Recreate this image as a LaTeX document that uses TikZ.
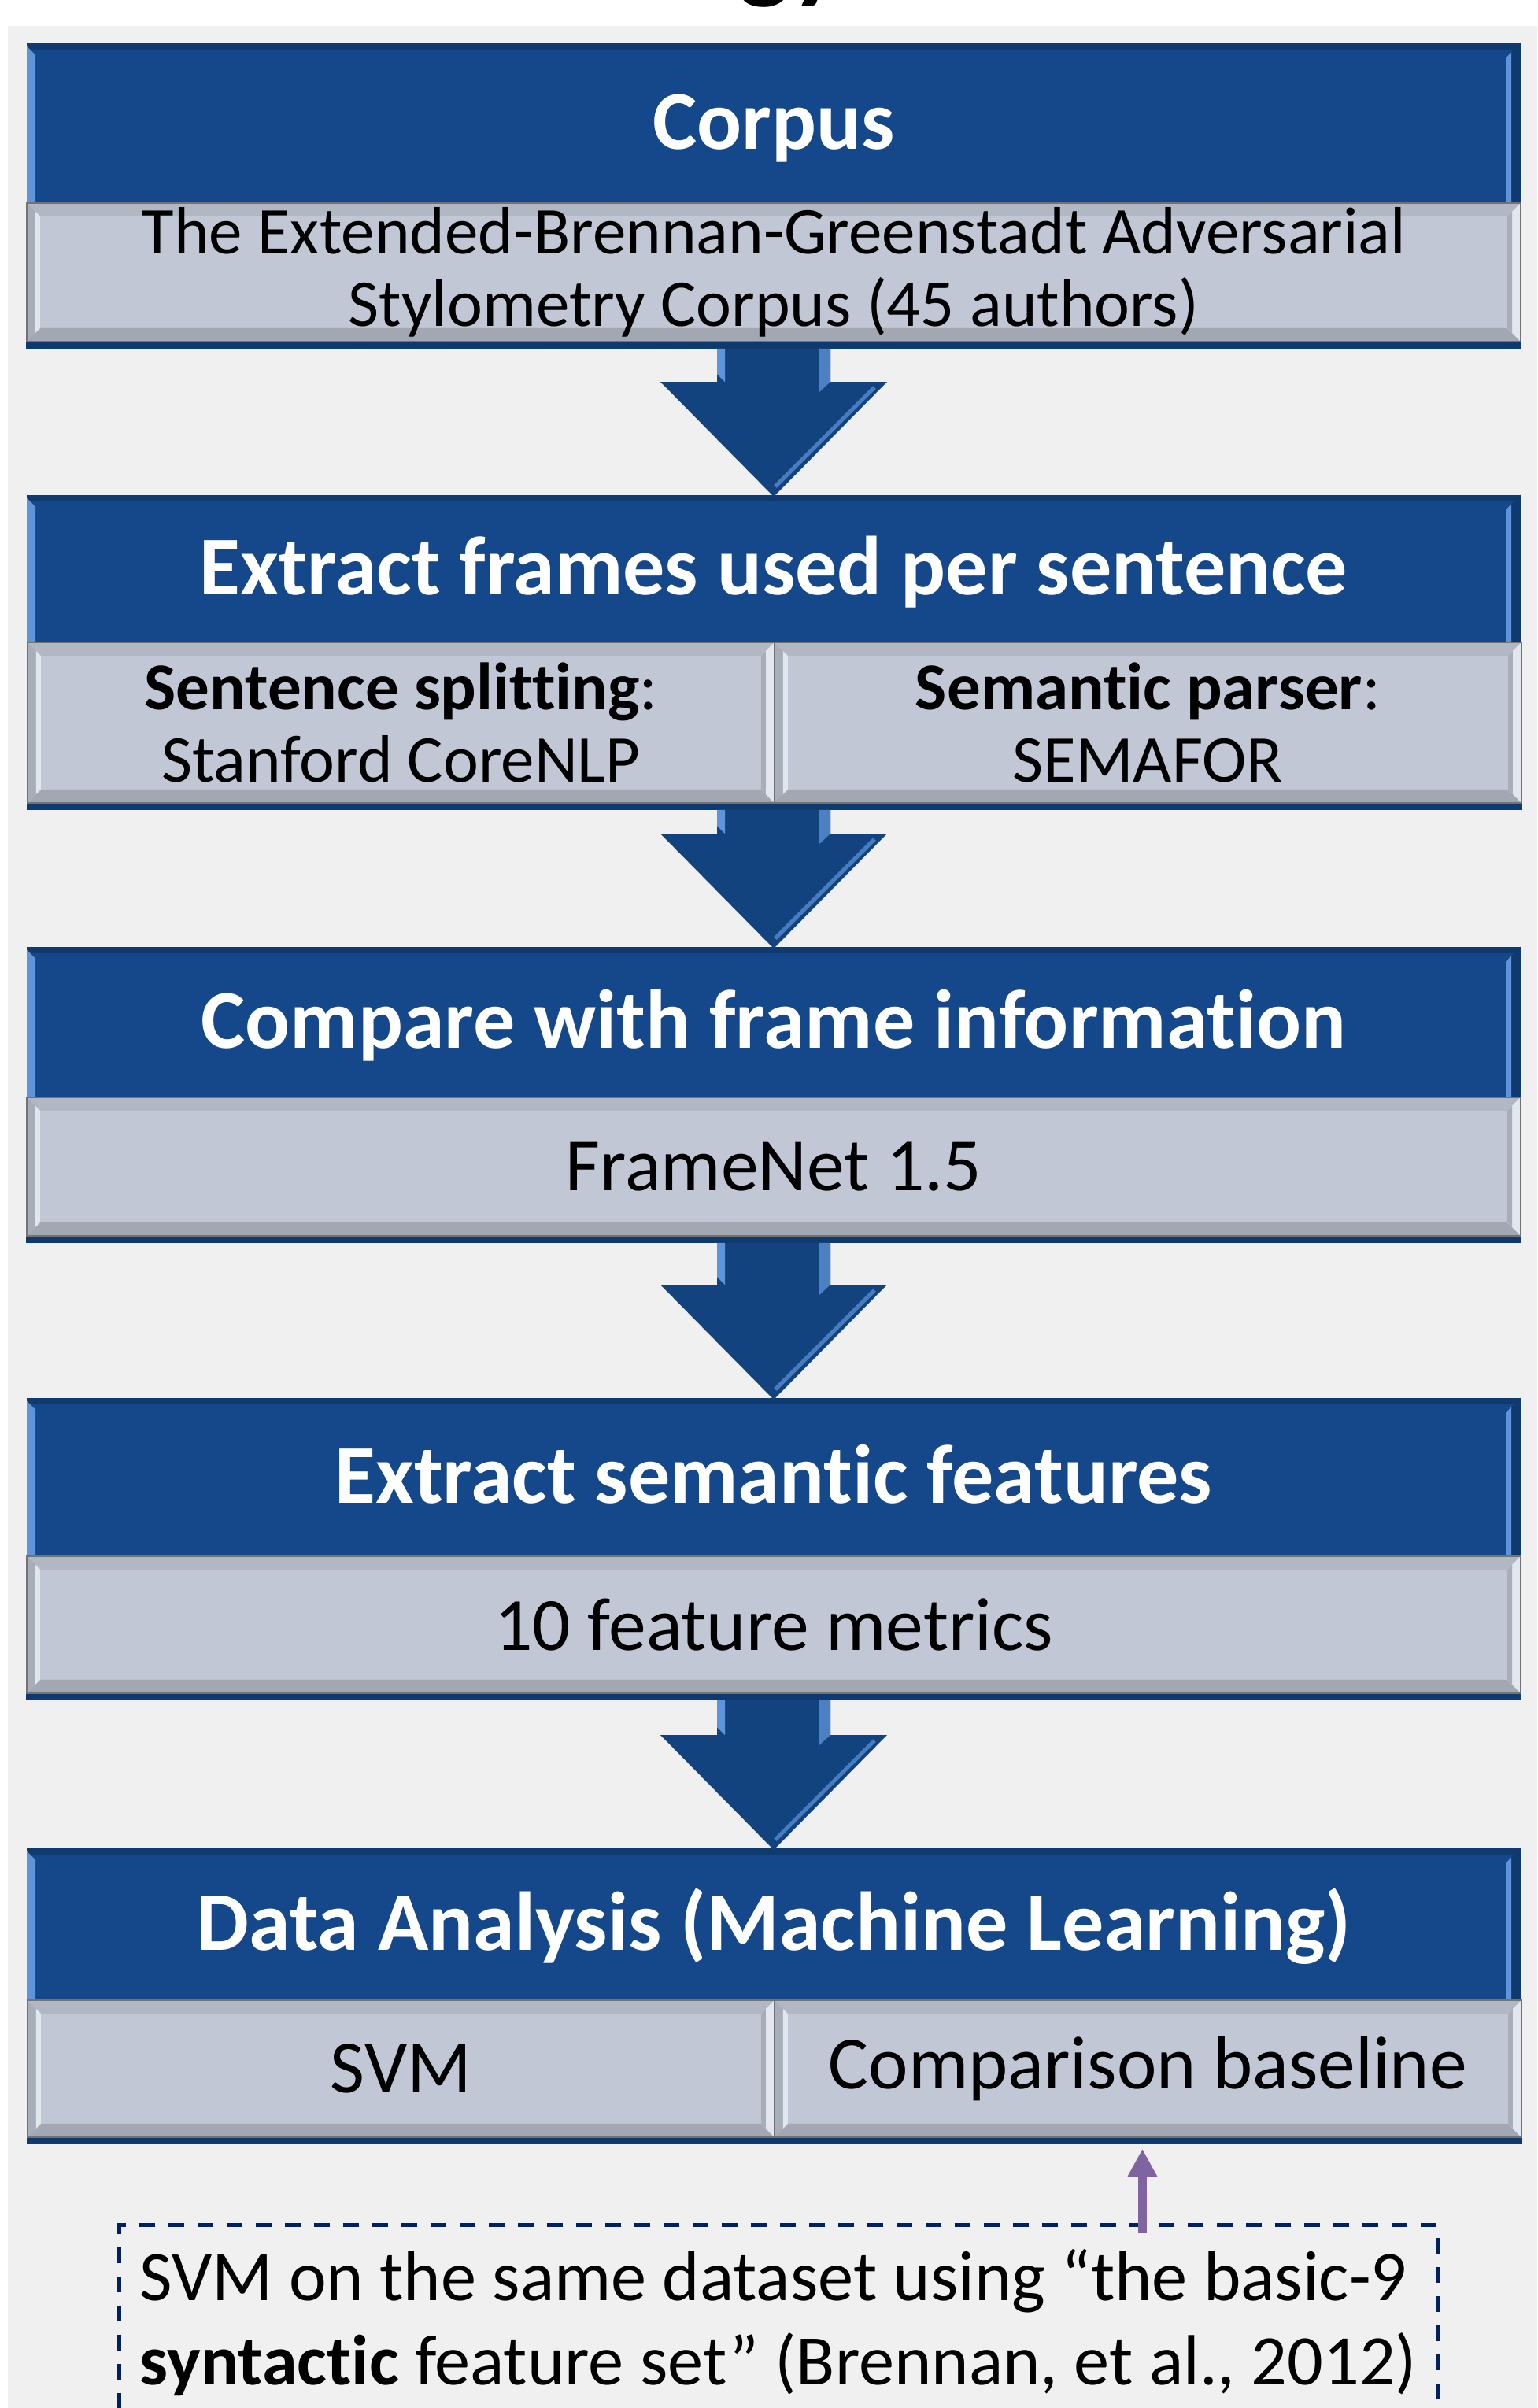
\documentclass[tikz,border=0pt]{standalone}
\usepackage{fontspec}
\setmainfont{Carlito}[Ligatures={NoCommon}]
\usetikzlibrary{calc,arrows.meta}

\definecolor{hblue}{HTML}{15488A}
\definecolor{hdark}{HTML}{0F3A70}
\definecolor{hlight}{HTML}{5E95DA}
\definecolor{ablue}{HTML}{13437F}
\definecolor{pgray}{HTML}{C1C7D4}
\definecolor{plight}{HTML}{E2E6ED}
\definecolor{pdark}{HTML}{A8AEB9}
\definecolor{bggray}{HTML}{F0F0F0}
\definecolor{navy}{HTML}{002060}
\definecolor{lilac}{HTML}{8064A2}

\newcommand{\headfont}{\bfseries\fontsize{30.2}{32}\selectfont}
\newcommand{\bodyfont}{\fontsize{24.2}{26.2}\selectfont}
\newcommand{\bigbodyfont}{\fontsize{27.2}{29}\selectfont}
\newcommand{\notefont}{\fontsize{25.7}{30.4}\selectfont}

% bevel of the grey panels
\newcommand{\grayBevel}{%
	\path (path picture bounding box.north west) coordinate (nw)
		(path picture bounding box.north east) coordinate (ne)
		(path picture bounding box.south west) coordinate (sw)
		(path picture bounding box.south east) coordinate (se);
	\fill[pgray!92!black] (nw) -- (ne) -- ($(ne)+(-0.17,-0.17)$) -- ($(nw)+(0.17,-0.17)$) -- cycle;
	\fill[pgray!84!black] (sw) -- (se) -- ($(se)+(-0.17,0.17)$) -- ($(sw)+(0.17,0.17)$) -- cycle;
	\fill[pdark] (nw) -- (sw) -- ($(sw)+(0.17,0.17)$) -- ($(nw)+(0.17,-0.17)$) -- cycle;
	\fill[plight] ($(nw)+(0.11,-0.11)$) -- ($(sw)+(0.11,0.11)$) -- ($(sw)+(0.17,0.17)$) -- ($(nw)+(0.17,-0.17)$) -- cycle;
	\fill[plight] (ne) -- (se) -- ($(se)+(-0.17,0.17)$) -- ($(ne)+(-0.17,-0.17)$) -- cycle;
	\fill[pdark] ($(ne)+(-0.11,-0.11)$) -- ($(se)+(-0.11,0.11)$) -- ($(se)+(-0.17,0.17)$) -- ($(ne)+(-0.17,-0.17)$) -- cycle;
}

% bevel of the blue title bars
\newcommand{\blueBevel}{%
	\path (path picture bounding box.north west) coordinate (nw)
		(path picture bounding box.north east) coordinate (ne)
		(path picture bounding box.south west) coordinate (sw)
		(path picture bounding box.south east) coordinate (se);
	\fill[hdark] (nw) rectangle ($(ne)+(0,-0.08)$);
	\fill[hlight] ($(nw)+(0,-0.04)$) -- (sw) -- ($(sw)+(0.11,0)$) -- ($(nw)+(0.11,-0.15)$) -- cycle;
	\fill[hdark] (ne) -- (se) -- ($(se)+(-0.12,0)$) -- ($(ne)+(-0.12,-0.12)$) -- cycle;
	\fill[hlight] ($(ne)+(-0.12,-0.12)$) -- ($(se)+(-0.12,0)$) -- ($(se)+(-0.19,0)$) -- ($(ne)+(-0.19,-0.19)$) -- cycle;
}

% down arrow from one box to the next
\newcommand{\blockarrow}[2]{%
	\fill[ablue] ($#1+(-0.72,-0.08)$) -- ($#2+(-0.72,1.43)$) -- ($#2+(-1.44,1.43)$)
		-- ($#2+(0,-0.03)$) -- ($#2+(1.44,1.43)$) -- ($#2+(0.72,1.43)$)
		-- ($#1+(0.72,-0.08)$) -- cycle;
	\fill[hlight] ($#1+(-0.72,-0.08)$) -- ($#2+(-0.72,1.53)$) -- ($#2+(-0.62,1.43)$) -- ($#1+(-0.62,-0.08)$) -- cycle;
	\fill[hlight!75!ablue] ($#1+(0.58,-0.08)$) -- ($#2+(0.58,1.30)$) -- ($#2+(0.72,1.43)$) -- ($#1+(0.72,-0.08)$) -- cycle;
	\draw[hlight!70!ablue,line width=0.05cm] ($#2+(1.28,1.36)$) -- ($#2+(0.02,0.10)$);
}

\begin{document}
\begin{tikzpicture}[
	head/.style={fill=hblue,text=white,font=\headfont,minimum width=18.98cm,inner sep=0pt,anchor=north,text height=0.67cm,text depth=0pt,path picture={\blueBevel}},
	body/.style={fill=pgray,draw=black!55,line width=0.5pt,font=\bodyfont,align=center,inner sep=0pt,path picture={\grayBevel}},
	note/.style={draw=navy,line width=0.05cm,dash pattern=on 0.2cm off 0.17cm,anchor=north west,align=left,inner xsep=0.26cm,inner ysep=0.31cm,font=\notefont},
	pointer/.style={lilac,line width=0.11cm,-{Triangle[width=0.35cm,length=0.35cm]}}
	]
	\useasboundingbox (0,0) rectangle (19.53,-30.59);
	\clip (0,0) rectangle (19.53,-30.59);
	\fill[white] (0,0) rectangle (19.53,-30.59);
	\fill[bggray] (0.10,-0.33) rectangle (19.53,-30.59);
	\node[font=\bfseries\fontsize{40}{40}\selectfont,anchor=base west,inner sep=0pt] (title) at (9.38,0.15) {gy};

	\node[head,minimum height=2.03cm] (h1) at (9.83,-0.54) {Corpus};
	\node[body,anchor=north,minimum width=18.98cm,minimum height=1.76cm] (b1) at (9.83,-2.57) {The Extended-Brennan-Greenstadt Adversarial\\Stylometry Corpus (45 authors)};

	\node[head,minimum height=1.87cm] (h2) at (9.83,-6.28) {Extract frames used per sentence};
	\node[body,anchor=north west,minimum width=9.49cm,minimum height=2.04cm] (b2l) at (0.34,-8.15) {\textbf{Sentence splitting}:\\Stanford CoreNLP};
	\node[body,anchor=north west,minimum width=9.49cm,minimum height=2.04cm] (b2r) at (9.83,-8.15) {\textbf{Semantic parser}:\\SEMAFOR};

	\node[head,minimum height=1.91cm] (h3) at (9.83,-12.02) {Compare with frame information};
	\node[body,font=\bigbodyfont,anchor=north,minimum width=18.98cm,minimum height=1.76cm] (b3) at (9.83,-13.93) {FrameNet 1.5};

	\node[head,minimum height=2.01cm] (h4) at (9.83,-17.75) {Extract semantic features};
	\node[body,font=\bigbodyfont,anchor=north,minimum width=18.98cm,minimum height=1.74cm] (b4) at (9.83,-19.76) {10 feature metrics};

	\node[head,minimum height=1.93cm] (h5) at (9.83,-23.47) {Data Analysis (Machine Learning)};
	\node[body,font=\bigbodyfont,anchor=north west,minimum width=9.49cm,minimum height=1.74cm] (b5l) at (0.34,-25.40) {SVM};
	\node[body,font=\bigbodyfont,anchor=north west,minimum width=9.49cm,minimum height=1.74cm] (b5r) at (9.83,-25.40) {Comparison baseline};

	% dark edge under each box
	\fill[hdark] (b1.south west) rectangle ([yshift=-0.08cm]b1.south east);
	\fill[hdark] (b2l.south west) rectangle ([yshift=-0.08cm]b2r.south east);
	\fill[hdark] (b3.south west) rectangle ([yshift=-0.08cm]b3.south east);
	\fill[hdark] (b4.south west) rectangle ([yshift=-0.08cm]b4.south east);
	\fill[hdark] (b5l.south west) rectangle ([yshift=-0.08cm]b5r.south east);

	\coordinate (e2) at (h2.south |- b2l.south);
	\blockarrow{(b1.south)}{(h2.north)}
	\blockarrow{(e2)}{(h3.north)}
	\blockarrow{(b3.south)}{(h4.north)}
	\blockarrow{(b4.south)}{(h5.north)}

	\node[note] (note) at (1.49,-28.24) {SVM on the same dataset using “the basic-9\\\textbf{syntactic} feature set” (Brennan, et al., 2012)};
	\draw[pointer] ($(note.north -| b5r.south)+(-0.07,-0.13)$) -- ($(b5r.south)+(-0.07,-0.14)$);
\end{tikzpicture}
\end{document}
